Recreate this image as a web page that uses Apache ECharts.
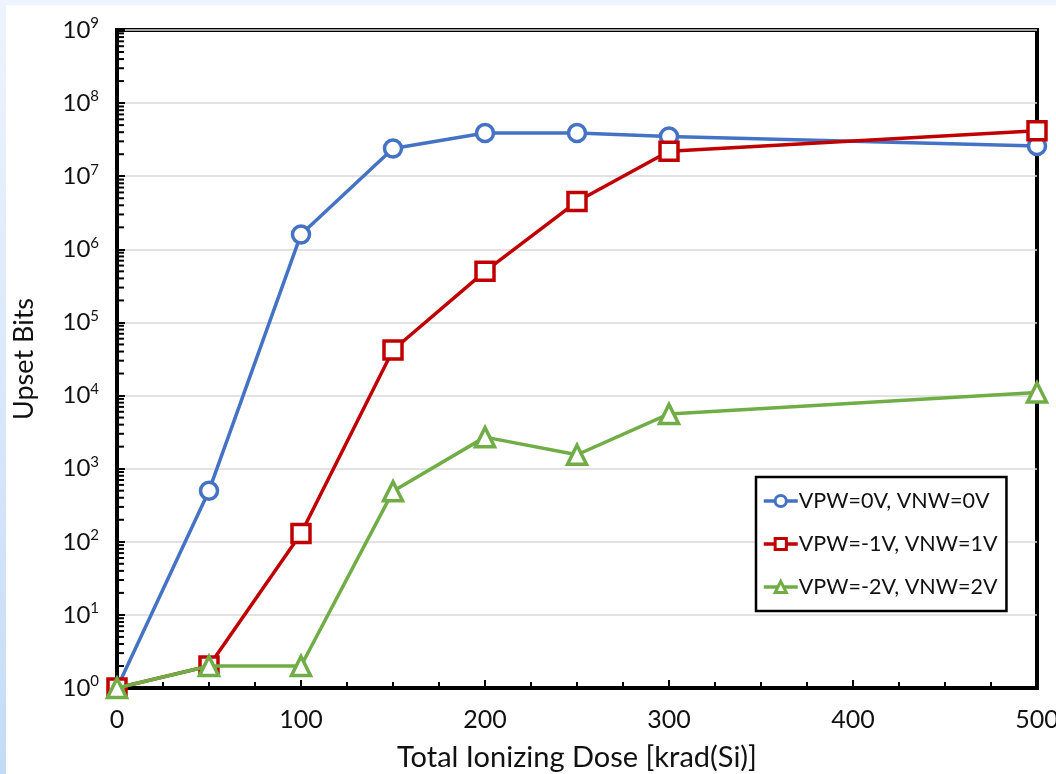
<!DOCTYPE html>
<html>
<head>
<meta charset="utf-8">
<title>Upset Bits vs TID</title>
<script src="https://cdn.jsdelivr.net/npm/echarts@6/dist/echarts.min.js"></script>
<style>
  html, body { margin: 0; padding: 0; background: #fff; }
  #edgeL { position: absolute; left: 0; top: 0; width: 6px; height: 774px;
           background: linear-gradient(#eef4fd, #c4dbf7); }
  #edgeT { position: absolute; left: 0; top: 0; width: 1056px; height: 5px; background: #eef4fd; }
  #chart { position: absolute; left: 0; top: 0; width: 1056px; height: 774px; }
</style>
</head>
<body>
<div id="edgeL"></div><div id="edgeT"></div>
<div id="chart"></div>
<script>
// dose in krad(Si)
var dose = [0, 50, 100, 150, 200, 250, 300, 500];
var names = ['VPW=0V, VNW=0V', 'VPW=-1V, VNW=1V', 'VPW=-2V, VNW=2V'];
var bits0 = [1, 500, 1.6e6, 2.4e7, 3.9e7, 3.9e7, 3.5e7, 2.6e7];
var bits1 = [1, 2, 130, 4.2e4, 5.0e5, 4.5e6, 2.2e7, 4.2e7];
var bits2 = [1, 2, 2, 490, 2700, 1550, 5600, 1.1e4];
var colors = ['#4472C4', '#C00000', '#70AD47'];
var symbols = ['circle', 'rect', 'triangle'];

// minor log ticks 2..9 x 10^k
var minorTicks = [];
for (var k = 0; k < 9; k++) {
  for (var m = 2; m <= 9; m++) minorTicks.push(m * Math.pow(10, k));
}

var font = 'Lato, "Open Sans", sans-serif';
var txt = '#111';
var chart = echarts.init(document.getElementById('chart'));

function pairs(arr) {
  return arr.map(function (v, i) { return [dose[i], v]; });
}

var series = [bits0, bits1, bits2].map(function (arr, i) {
  return {
    name: names[i],
    type: 'line',
    data: pairs(arr),
    clip: false,
    symbol: symbols[i],
    symbolSize: [17, 18, 19][i],
    lineStyle: { color: colors[i], width: 3.5 },
    itemStyle: { color: '#fff', borderColor: colors[i], borderWidth: 3.5 },
    z: 3 + i
  };
});

series.push({
  type: 'custom',
  silent: true,
  clip: false,
  data: minorTicks.map(function (v) { return [0, v]; }),
  renderItem: function (params, api) {
    var p = api.coord([0, api.value(1)]);
    return {
      type: 'line',
      shape: { x1: p[0], y1: p[1], x2: p[0] + 7, y2: p[1] },
      style: { stroke: '#000', lineWidth: 2 }
    };
  },
  z: 2
});

chart.setOption({
  animation: false,
  backgroundColor: 'transparent',
  textStyle: { fontFamily: font },
  grid: {
    left: 117, right: 19, top: 30, bottom: 86,
    outerBoundsMode: 'none',
    containLabel: false,
    show: true, borderColor: '#000', borderWidth: 4, backgroundColor: 'transparent'
  },
  legend: {
    data: names,
    orient: 'vertical',
    left: 756, top: 477,
    width: 249, height: 148,
    padding: [13, 9, 13, 6],
    itemGap: 21,
    itemWidth: 34, itemHeight: 14,
    lineStyle: { width: 3.5 },
    itemStyle: { borderWidth: 3 },
    backgroundColor: '#fff',
    borderColor: '#000', borderWidth: 2.5, borderRadius: 0,
    textStyle: { fontSize: 21.5, color: txt, fontFamily: font, padding: [0, 0, 0, -4] }
  },
  xAxis: {
    type: 'value',
    min: 0, max: 500, interval: 100,
    name: 'Total Ionizing Dose [krad(Si)]',
    nameLocation: 'middle',
    nameGap: 55,
    nameTextStyle: { fontSize: 29, color: txt, fontFamily: font },
    axisLine: { lineStyle: { color: '#000', width: 4 } },
    axisTick: { inside: true, length: 8, lineStyle: { color: '#000', width: 2 } },
    minorTick: { show: true, splitNumber: 4, length: 6, lineStyle: { color: '#000', width: 2 } },
    axisLabel: { fontSize: 25, color: txt, margin: 19, fontFamily: font },
    splitLine: { show: false }
  },
  yAxis: {
    type: 'log',
    logBase: 10,
    min: 1, max: 1e9,
    name: 'Upset Bits',
    nameLocation: 'middle',
    nameGap: 79,
    nameTextStyle: { fontSize: 27, color: txt, fontFamily: font },
    axisLine: { lineStyle: { color: '#000', width: 4 } },
    axisTick: { inside: true, length: 8, lineStyle: { color: '#000', width: 2 } },
    splitLine: { show: true, lineStyle: { color: '#d9d9d9', width: 1.5 } },
    axisLabel: {
      margin: 18,
      formatter: function (v) {
        var e = Math.round(Math.log10(v));
        return '{b|10}{s|' + e + '}';
      },
      rich: {
        b: { fontSize: 24, color: txt, fontFamily: font },
        s: { fontSize: 15, color: txt, fontFamily: font, padding: [0, 0, 13, 0] }
      }
    }
  },
  series: series
});
</script>
</body>
</html>
